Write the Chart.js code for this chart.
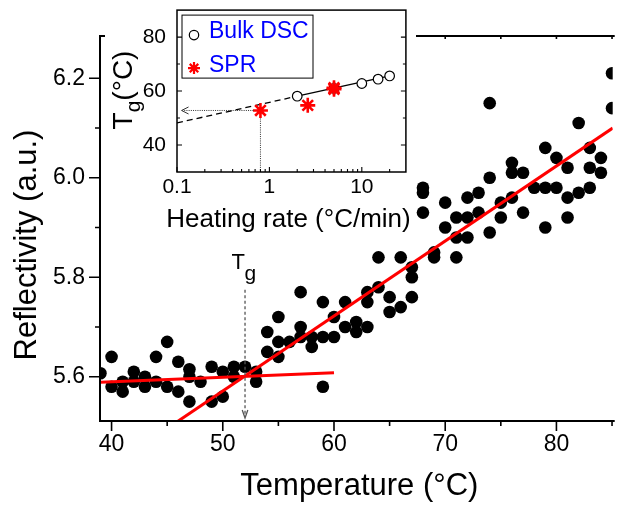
<!DOCTYPE html>
<html>
<head>
<meta charset="utf-8">
<script src="https://cdn.jsdelivr.net/npm/chart.js@4.4.1/dist/chart.umd.min.js"></script>
<style>
  html, body { margin: 0; padding: 0; background: #fff; }
  #wrap { position: relative; width: 619px; height: 505px; overflow: hidden; background: #fff; }
  #main { position: absolute; left: 0; top: 0; }
  #insetBox { position: absolute; left: 105px; top: 0; width: 311px; height: 232px; background: #fff; }
  #inset { position: absolute; left: 0; top: 0; }
</style>
</head>
<body>
<div id="wrap">
  <canvas id="main" width="619" height="505"></canvas>
  <div id="insetBox"><canvas id="inset" width="311" height="232"></canvas></div>
</div>
<script>
// ---- Main panel: SPR reflectivity during a temperature scan ----
const temperature = [
  39, 40, 40, 41, 41, 42, 42, 43, 43, 44, 44, 45, 45, 46, 46,
  47, 47, 47, 48, 49, 49, 50, 50, 51, 51, 52, 53, 53,
  54, 54, 55, 55, 55, 56, 57, 57, 57, 58, 58, 59, 59, 59, 60, 60,
  61, 61, 62, 62, 63, 63, 63, 64, 64, 65, 65, 66, 66, 67, 67, 67,
  68, 68, 68, 69, 69, 70, 70, 71, 71, 71, 72, 72, 72, 73, 73,
  74, 74, 74, 75, 75, 76, 76, 76, 77, 77, 78, 79, 79, 79, 80, 80,
  81, 81, 81, 82, 82, 83, 83, 83, 84, 84, 85, 85
];
const reflectivity = [
  5.607, 5.640, 5.580, 5.590, 5.570, 5.610, 5.590, 5.600, 5.580, 5.640, 5.590, 5.670, 5.580, 5.630, 5.570,
  5.615, 5.600, 5.550, 5.590, 5.620, 5.550, 5.610, 5.560, 5.620, 5.600, 5.620, 5.610, 5.590,
  5.690, 5.650, 5.720, 5.670, 5.640, 5.670, 5.770, 5.700, 5.680, 5.680, 5.660, 5.750, 5.680, 5.580, 5.720, 5.680,
  5.750, 5.700, 5.710, 5.690, 5.770, 5.750, 5.700, 5.840, 5.780, 5.760, 5.730, 5.840, 5.740, 5.820, 5.800, 5.760,
  5.980, 5.970, 5.930, 5.850, 5.840, 5.950, 5.900, 5.920, 5.880, 5.840, 5.960, 5.920, 5.880, 5.970, 5.930,
  6.150, 6.000, 5.890, 5.950, 5.920, 6.030, 6.010, 5.960, 6.010, 5.930, 5.980, 6.060, 5.980, 5.900, 6.040, 5.980,
  6.020, 5.960, 5.920, 6.110, 5.970, 6.060, 6.020, 5.980, 6.040, 6.010, 6.210, 6.140
];

// Linear fits below and above the transition (end points)
const glassyFitT = [39, 60];
const glassyFitR = [5.589, 5.608];
const rubberyFitT = [45.6, 85.06];
const rubberyFitR = [5.505, 6.100];

// Transition marker
const tgValue = 52;
const tgMarkerTop = 5.775;

// Main axes
const xRange = [38.96, 85.06];
const yRange = [5.511, 6.285];
const xMajorTicks = [40, 50, 60, 70, 80];
const xMinorTicks = [45, 55, 65, 75, 85];
const yMajorTicks = [5.6, 5.8, 6.0, 6.2];
const yMinorTicks = [5.7, 5.9, 6.1];

// ---- Inset: Tg versus heating rate ----
const dscRate = [2, 5, 10, 15, 20];
const dscTg = [58.1, 61.0, 62.8, 64.4, 65.6];
const sprRate = [0.8, 2.6, 5, 5];
const sprTg = [52.8, 54.7, 60.7, 61.2];
const extrapRate = [0.1, 2];
const extrapTg = [48.2, 58.1];
const dscFitRate = [2, 20];
const dscFitTg = [58.1, 65.6];
const sprTgRead = 52.8;
const sprRateRead = 0.8;
const arrowTipRate = 0.112;

const insetXRange = [0.1, 30];
const insetYRange = [30, 90];
const insetXMajor = [0.1, 1, 10];
const insetXMinor = [0.2, 0.3, 0.4, 0.5, 0.6, 0.7, 0.8, 0.9, 2, 3, 4, 5, 6, 7, 8, 9, 20];
const insetYMajor = [40, 60, 80];
const insetYMinor = [50, 70];

const FONT = "'Liberation Sans', Arial, Helvetica, sans-serif";
Chart.defaults.font.family = FONT;
Chart.defaults.color = '#000';

const pts = (xs, ys) => xs.map((v, i) => ({ x: v, y: ys[i] }));

// keep the plot area exactly where the layout padding puts it
const fixHeight = h => s => { s.height = h; s.paddingLeft = 0; s.paddingRight = 0; s.paddingTop = 0; s.paddingBottom = 0; };
const fixWidth = w => s => { s.width = w; s.paddingLeft = 0; s.paddingRight = 0; s.paddingTop = 0; s.paddingBottom = 0; };

// Frame, ticks, titles and transition marker of the main panel
const mainDecor = {
  id: 'mainDecor',
  afterDatasetsDraw(chart) {
    const { ctx, scales: { x, y } } = chart;
    const px = x.getPixelForValue(tgValue);
    const yTop = y.getPixelForValue(tgMarkerTop);
    const yBot = chart.chartArea.bottom - 3;
    ctx.save();
    ctx.strokeStyle = '#555';
    ctx.lineWidth = 1.3;
    ctx.setLineDash([3, 2.5]);
    ctx.beginPath();
    ctx.moveTo(px, yTop);
    ctx.lineTo(px, yBot - 1);
    ctx.stroke();
    ctx.setLineDash([]);
    ctx.beginPath();
    ctx.moveTo(px - 2.8, yBot - 8);
    ctx.lineTo(px, yBot);
    ctx.lineTo(px + 2.8, yBot - 8);
    ctx.stroke();
    ctx.fillStyle = '#000';
    ctx.textBaseline = 'alphabetic';
    ctx.textAlign = 'left';
    ctx.font = '22px ' + FONT;
    ctx.fillText('T', px - 13.5, yTop - 21);
    ctx.font = '21px ' + FONT;
    ctx.fillText('g', px - 0.5, yTop - 10);
    ctx.restore();
  },
  afterDraw(chart) {
    const { ctx, chartArea: a, scales: { x, y } } = chart;
    ctx.save();
    ctx.strokeStyle = '#000';
    ctx.lineWidth = 2;
    ctx.beginPath();
    ctx.moveTo(a.left, a.top);
    ctx.lineTo(a.left, a.bottom);
    ctx.lineTo(a.right + 2, a.bottom);
    ctx.moveTo(a.left - 1, a.top);
    ctx.lineTo(a.right + 2, a.top);
    ctx.stroke();
    ctx.lineWidth = 1.6;
    ctx.beginPath();
    xMajorTicks.forEach(v => { const p = x.getPixelForValue(v); ctx.moveTo(p, a.bottom); ctx.lineTo(p, a.bottom + 10); });
    xMinorTicks.forEach(v => { const p = x.getPixelForValue(v); ctx.moveTo(p, a.bottom); ctx.lineTo(p, a.bottom + 5); });
    xMajorTicks.concat(xMinorTicks).forEach(v => { const p = x.getPixelForValue(v); ctx.moveTo(p, a.top); ctx.lineTo(p, a.top + 3); });
    yMajorTicks.forEach(v => { const p = y.getPixelForValue(v); ctx.moveTo(a.left, p); ctx.lineTo(a.left - 11, p); });
    yMinorTicks.forEach(v => { const p = y.getPixelForValue(v); ctx.moveTo(a.left, p); ctx.lineTo(a.left - 5, p); });
    ctx.stroke();

    ctx.fillStyle = '#000';
    ctx.textAlign = 'center';
    ctx.textBaseline = 'alphabetic';
    ctx.font = '31px ' + FONT;
    ctx.fillText('Temperature (°C)', (a.left + a.right) / 2 + 3, 495);
    ctx.translate(36, 245);
    ctx.rotate(-Math.PI / 2);
    ctx.fillText('Reflectivity (a.u.)', 0, 0);
    ctx.restore();
  }
};

new Chart(document.getElementById('main'), {
  type: 'scatter',
  data: {
    datasets: [
      { label: 'glassy fit', data: pts(glassyFitT, glassyFitR), showLine: true, borderColor: '#ff0000',
        borderWidth: 3, pointRadius: 0, fill: false, order: 1, clip: 0 },
      { label: 'rubbery fit', data: pts(rubberyFitT, rubberyFitR), showLine: true, borderColor: '#ff0000',
        borderWidth: 3, pointRadius: 0, fill: false, order: 1, clip: 0 },
      { label: 'Reflectivity', data: pts(temperature, reflectivity), backgroundColor: '#000',
        borderWidth: 0, pointRadius: 6.3, pointHoverRadius: 6.3, order: 2, clip: 0 }
    ]
  },
  options: {
    responsive: false,
    animation: false,
    events: [],
    layout: { padding: { left: 0, right: 0, top: 36, bottom: 0 } },
    plugins: { legend: { display: false }, tooltip: { enabled: false } },
    scales: {
      x: {
        type: 'linear', min: xRange[0], max: xRange[1],
        grid: { display: false, drawTicks: false }, border: { display: false },
        afterBuildTicks: s => { s.ticks = xMajorTicks.map(v => ({ value: v })); },
        afterFit: fixHeight(84),
        ticks: { font: { size: 23 }, padding: 10, maxRotation: 0, autoSkip: false, callback: v => String(v) }
      },
      y: {
        type: 'linear', min: yRange[0], max: yRange[1],
        grid: { display: false, drawTicks: false }, border: { display: false },
        afterBuildTicks: s => { s.ticks = yMajorTicks.map(v => ({ value: v })); },
        afterFit: fixWidth(100),
        ticks: { font: { size: 23 }, padding: 15, autoSkip: false, callback: v => Number(v).toFixed(1) }
      }
    }
  },
  plugins: [mainDecor]
});

// Frame, ticks, legend, guide arrows and titles of the inset
const insetDecor = {
  id: 'insetDecor',
  afterDatasetsDraw(chart) {
    const { ctx, chartArea: a, scales: { x, y } } = chart;
    const sx = x.getPixelForValue(sprRateRead);
    const sy = y.getPixelForValue(sprTgRead);
    const tip = x.getPixelForValue(arrowTipRate);
    ctx.save();
    ctx.strokeStyle = '#333';
    ctx.lineWidth = 1;
    ctx.setLineDash([1, 1.2]);
    ctx.beginPath();
    ctx.moveTo(sx - 7, sy);
    ctx.lineTo(tip + 1, sy);
    ctx.moveTo(sx, sy + 8);
    ctx.lineTo(sx, a.bottom);
    ctx.stroke();
    ctx.setLineDash([]);
    ctx.beginPath();
    ctx.moveTo(tip + 7, sy - 3.5);
    ctx.lineTo(tip, sy);
    ctx.lineTo(tip + 7, sy + 3.5);
    ctx.stroke();
    ctx.restore();
  },
  afterDraw(chart) {
    const { ctx, chartArea: a, scales: { x, y } } = chart;
    ctx.save();
    ctx.strokeStyle = '#000';
    ctx.lineWidth = 1.5;
    ctx.strokeRect(a.left, a.top, a.right - a.left, a.bottom - a.top);
    ctx.lineWidth = 1.1;
    ctx.beginPath();
    insetXMajor.forEach(v => { const p = x.getPixelForValue(v); ctx.moveTo(p, a.bottom); ctx.lineTo(p, a.bottom - 5); });
    insetXMinor.forEach(v => { const p = x.getPixelForValue(v); ctx.moveTo(p, a.bottom); ctx.lineTo(p, a.bottom - 3); });
    insetYMajor.forEach(v => {
      const p = y.getPixelForValue(v);
      ctx.moveTo(a.left, p); ctx.lineTo(a.left + 5, p);
      ctx.moveTo(a.right, p); ctx.lineTo(a.right - 5, p);
    });
    insetYMinor.forEach(v => {
      const p = y.getPixelForValue(v);
      ctx.moveTo(a.left, p); ctx.lineTo(a.left + 3, p);
      ctx.moveTo(a.right, p); ctx.lineTo(a.right - 3, p);
    });
    ctx.stroke();

    // legend
    const lx = a.left + 5, ly = a.top + 5;
    ctx.lineWidth = 1;
    ctx.strokeRect(lx, ly, 131, 63);
    ctx.beginPath();
    ctx.arc(lx + 12, ly + 20, 4.7, 0, Math.PI * 2);
    ctx.lineWidth = 1.2;
    ctx.stroke();
    ctx.strokeStyle = '#ff0000';
    ctx.lineWidth = 2.2;
    ctx.beginPath();
    const r = 6;
    for (let k = 0; k < 4; k++) {
      const ang = k * Math.PI / 4;
      ctx.moveTo(lx + 12 - r * Math.cos(ang), ly + 53 - r * Math.sin(ang));
      ctx.lineTo(lx + 12 + r * Math.cos(ang), ly + 53 + r * Math.sin(ang));
    }
    ctx.stroke();
    ctx.fillStyle = '#0000ff';
    ctx.font = '23px ' + FONT;
    ctx.textAlign = 'left';
    ctx.textBaseline = 'alphabetic';
    ctx.fillText('Bulk DSC', lx + 27, ly + 23);
    ctx.fillText('SPR', lx + 27, ly + 57);

    // axis titles
    ctx.fillStyle = '#000';
    ctx.textAlign = 'center';
    ctx.font = '26px ' + FONT;
    ctx.fillText('Heating rate (°C/min)', (a.left + a.right) / 2 - 3, 227);

    ctx.translate(27, 90);
    ctx.rotate(-Math.PI / 2);
    ctx.textAlign = 'left';
    const big = '28px ' + FONT, small = '21px ' + FONT;
    ctx.font = big; const wT = ctx.measureText('T').width;
    ctx.font = small; const wg = ctx.measureText('g').width;
    ctx.font = big; const wC = ctx.measureText('(°C)').width;
    let cx = -(wT + wg + wC) / 2;
    ctx.font = big; ctx.fillText('T', cx, 0); cx += wT;
    ctx.font = small; ctx.fillText('g', cx, 8); cx += wg;
    ctx.font = big; ctx.fillText('(°C)', cx, 0);
    ctx.restore();
  }
};

new Chart(document.getElementById('inset'), {
  type: 'scatter',
  data: {
    datasets: [
      { label: 'SPR', data: pts(sprRate, sprTg), pointStyle: 'star', pointRadius: 7.5, pointHoverRadius: 7.5,
        borderColor: '#ff0000', borderWidth: 2.6, order: 1, clip: 0 },
      { label: 'Bulk DSC', data: pts(dscRate, dscTg), pointStyle: 'circle', pointRadius: 4.8, pointHoverRadius: 4.8,
        backgroundColor: '#fff', borderColor: '#000', borderWidth: 1.2, order: 2, clip: 0 },
      { label: 'DSC fit', data: pts(dscFitRate, dscFitTg), showLine: true, borderColor: '#000', borderWidth: 1.3,
        pointRadius: 0, order: 3, clip: 0 },
      { label: 'extrapolation', data: pts(extrapRate, extrapTg), showLine: true, borderColor: '#000', borderWidth: 1.3,
        borderDash: [6, 4], pointRadius: 0, order: 3, clip: 0 }
    ]
  },
  options: {
    responsive: false,
    animation: false,
    events: [],
    layout: { padding: { left: 0, right: 9, top: 5, bottom: 0 } },
    plugins: { legend: { display: false }, tooltip: { enabled: false } },
    scales: {
      x: {
        type: 'logarithmic', min: insetXRange[0], max: insetXRange[1],
        grid: { display: false, drawTicks: false }, border: { display: false },
        afterBuildTicks: s => { s.ticks = insetXMajor.map(v => ({ value: v })); },
        afterFit: fixHeight(60),
        ticks: { font: { size: 21 }, padding: 3, maxRotation: 0, autoSkip: false,
                 callback: v => (v < 1 ? Number(v).toFixed(1) : String(Math.round(v))) }
      },
      y: {
        type: 'linear', min: insetYRange[0], max: insetYRange[1],
        grid: { display: false, drawTicks: false }, border: { display: false },
        afterBuildTicks: s => { s.ticks = insetYMajor.map(v => ({ value: v })); },
        afterFit: fixWidth(72),
        ticks: { font: { size: 21 }, padding: 11, autoSkip: false, callback: v => String(v) }
      }
    }
  },
  plugins: [insetDecor]
});
</script>
</body>
</html>
